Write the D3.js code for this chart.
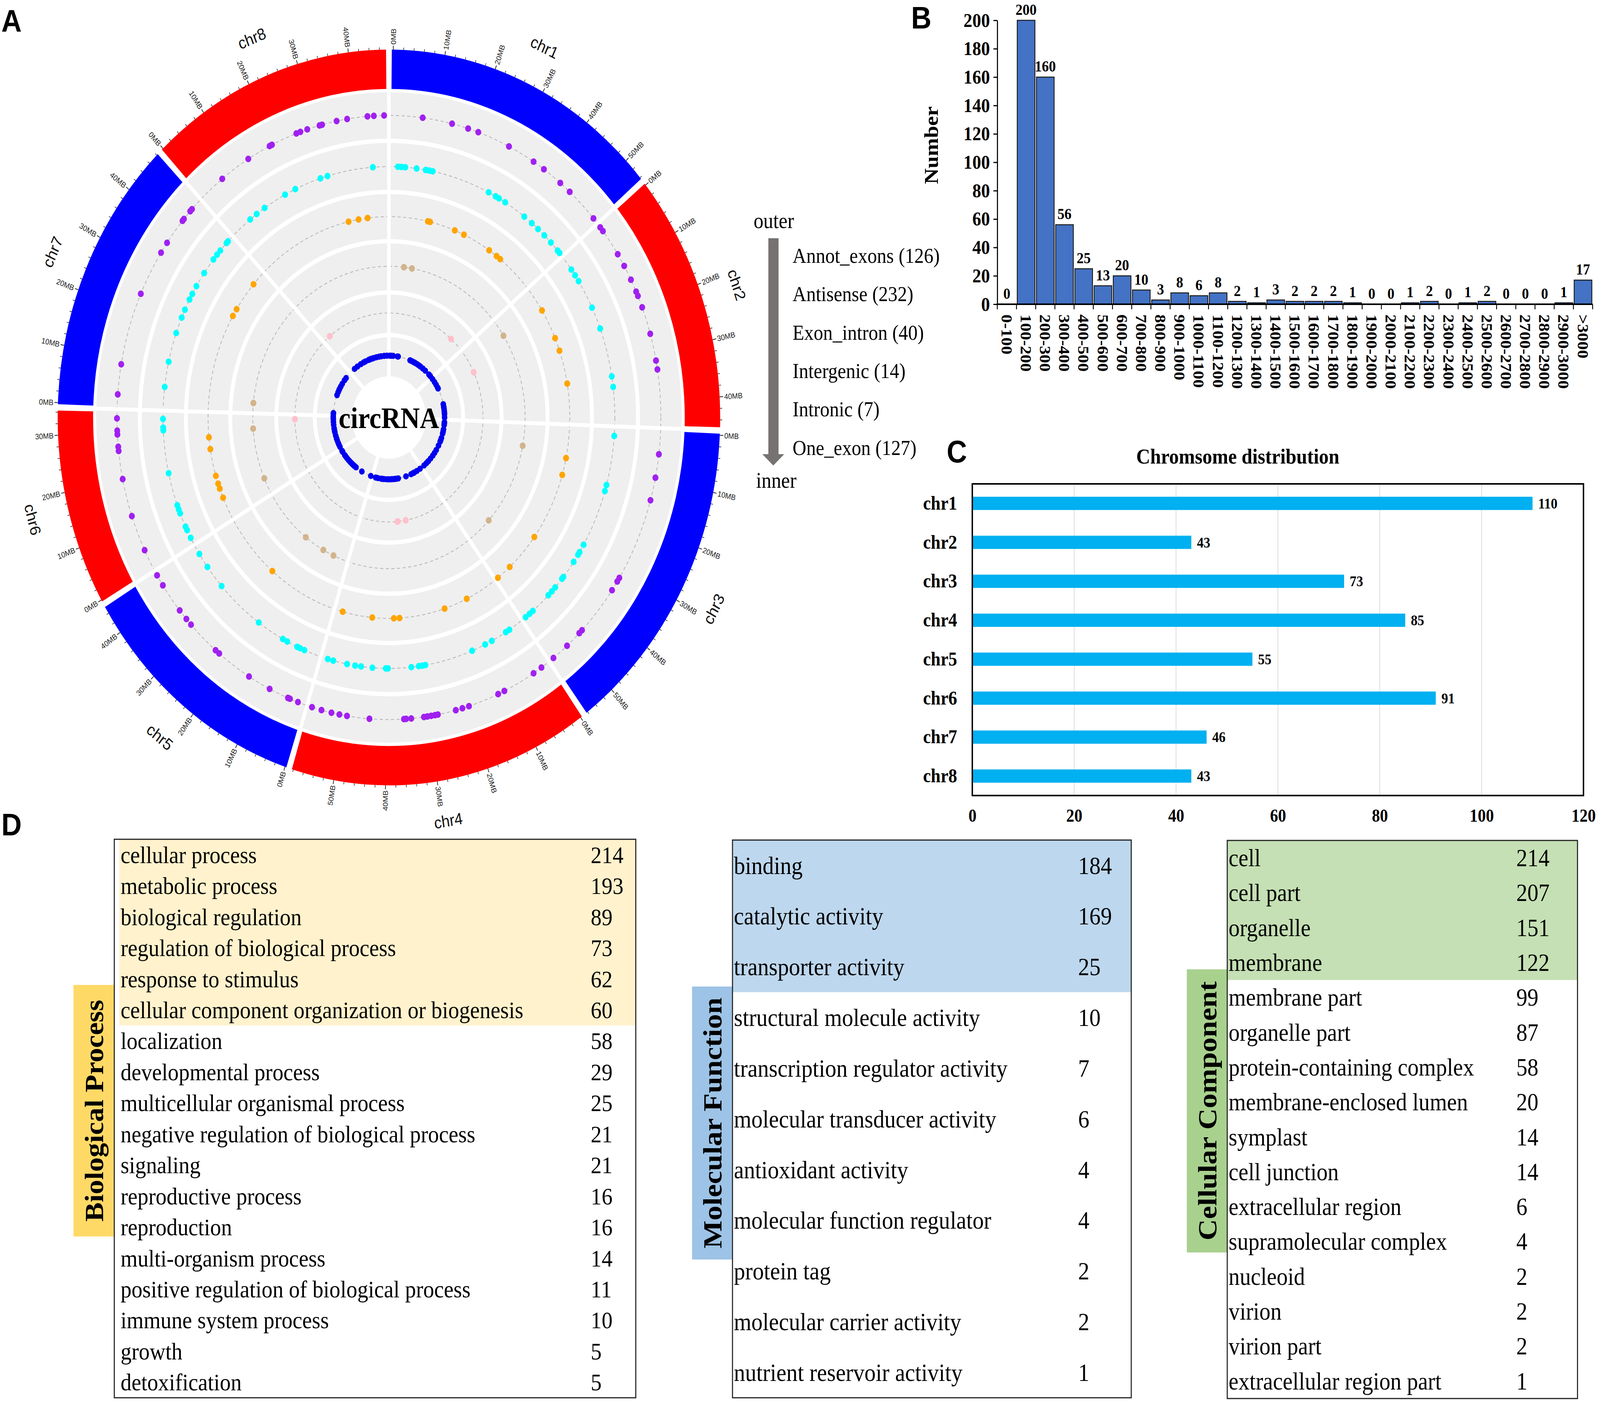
<!DOCTYPE html>
<html>
<head>
<meta charset="utf-8">
<script src="https://cdn.jsdelivr.net/npm/d3@7"></script>
<style>
html, body { margin: 0; padding: 0; background: #fff; width: 100%; height: 100%; overflow: hidden; }
svg { display: block; }
</style>
</head>
<body>
<script>
// ---------------- data ----------------
var chrNames = ['chr1', 'chr2', 'chr3', 'chr4', 'chr5', 'chr6', 'chr7', 'chr8'];
var chrLengths = [54, 45, 56, 58, 45, 34, 48, 47]; // MB
var chrColors = ['#0000ff', '#ff0000', '#0000ff', '#ff0000', '#0000ff', '#ff0000', '#0000ff', '#ff0000'];

// circRNA positions in MB, one list per chromosome (chr1..chr8), tracks outer -> inner
var annotExons = [
  [7.1, 14.1, 18.0, 20.5, 28.3, 34.9, 37.8, 42.6, 45.5, 53.4],
  [0.2, 1.2, 7.2, 10.1, 13.4, 16.2, 17.2, 19.8, 25.7, 31.5, 33.4],
  [4.7, 9.7, 14.6, 32.6, 33.5, 35.7, 46.7, 47.6, 51.5, 55.6],
  [1.4, 3.6, 11.4, 13.0, 20.3, 21.9, 23.5, 27.8, 28.5, 29.4, 30.3, 31.1, 34.1, 35.3, 35.8, 43.9, 49.2, 51.0, 52.9, 55.3, 57.6],
  [1.4, 3.4, 3.9, 8.6, 14.1, 22.6, 23.7, 31.6, 33.2, 35.6, 42.2, 44.7],
  [4.1, 11.9, 20.0, 26.0, 26.9, 29.5, 30.3, 32.9],
  [2.3, 8.7, 24.3, 34.2, 36.7, 42.6, 43.1, 45.3, 45.9],
  [5.8, 13.2, 18.9, 19.5, 25.7, 26.7, 28.4, 31.4, 32.0, 35.5, 38.0, 42.8, 44.3, 46.7]
];
var antisense = [
  [1.7, 2.7, 3.8, 7.0, 9.6, 10.6, 11.6, 28.3, 30.5, 31.6, 33.6, 40.1, 42.8, 45.1, 47.5, 50.1, 52.9, 53.7],
  [3.4, 5.2, 7.0, 14.7, 20.5, 33.1, 35.8],
  [1.6, 14.3, 15.9, 30.8, 33.0, 33.8, 36.0, 40.8, 41.4, 44.3, 45.7, 47.1, 53.0, 54.2, 55.6],
  [3.5, 4.7, 9.2, 11.3, 15.3, 29.0, 29.9, 30.9, 33.0, 39.6, 40.2, 44.0, 47.2, 48.9, 51.2, 55.2, 56.8],
  [4.1, 5.4, 6.3, 9.4, 10.8, 18.8, 32.8, 39.1, 43.1],
  [1.2, 3.4, 4.4, 8.1, 9.2, 10.3, 18.8, 29.8, 30.5, 32.7],
  [5.2, 11.7, 19.3, 23.5, 25.7, 28.6, 30.2, 32.5, 36.5, 40.8, 42.4, 43.8, 46.4, 47.0],
  [5.7, 8.0, 10.7, 17.4, 20.6, 28.2, 30.3, 43.3]
];
var exonIntron = [
  [13.0, 13.8, 22.9, 26.4, 36.6, 39.8, 41.4],
  [7.8, 17.7, 22.0, 32.8],
  [9.9, 15.4, 37.5, 50.4, 55.8],
  [11.0, 19.4, 35.6, 37.6, 45.2, 55.8],
  [24.3],
  [6.9, 10.0, 11.7, 14.3, 23.0, 26.8],
  [31.2, 33.7, 43.6],
  [33.5, 37.1, 40.3]
];
var intergenic = [
  [6.2, 10.0], [7.2], [8.9, 44.6], [], [6.4, 11.7, 21.5], [6.7, 28.4], [3.5], []
];
var intronic = [
  [45.1], [15.0], [], [27.9, 33.3, 33.6], [], [32.1], [], [4.5]
];
var oneExon = [
  [0.2, 1.8, 4.0, 9.0, 9.8, 24.0, 26.2, 28.5, 30.1, 32.5, 35.0, 37.3, 40.9, 44.5, 50.3, 52.5],
  [0.8, 4.7, 8.0, 11.3, 12.5, 29.8, 32.5, 34.2, 36.4, 38.6, 40.2, 43.6],
  [1.7, 3.2, 4.7, 9.2, 11.5, 13.6, 18.3, 20.5, 22.5, 27.0, 32.2, 35.8, 39.2, 43.2, 47.0, 50.0, 53.5],
  [1.5, 5.9, 9.3, 10.5, 13.2, 19.5, 28.6, 30.7, 32.5, 33.8, 36.0, 37.1, 39.5, 41.7, 44.9, 46.5, 48.2, 52.0, 54.6],
  [0.8, 12.0, 20.0, 21.9, 23.5, 25.0, 26.2, 28.0, 29.7, 31.5, 34.2, 36.5, 38.0, 42.0, 43.5],
  [1.5, 4.2, 6.0, 8.6, 11.0, 14.0, 17.5, 19.5, 22.0, 25.5, 28.6, 31.4, 33.6],
  [0.5, 2.0, 21.0, 24.1, 26.5, 28.6, 31.0, 34.1, 38.6, 41.5],
  [5.5, 9.5, 14.0, 17.8, 20.0, 23.9, 25.5, 26.7, 28.5, 30.3, 33.4, 36.4, 39.0, 42.4, 45.6]
];
var trackNames = ['Annot_exons', 'Antisense', 'Exon_intron', 'Intergenic', 'Intronic', 'One_exon'];
var trackTotals = [126, 232, 40, 14, 7, 127];
var trackColors = ['#a020f0', '#00ffff', '#ffa500', '#d2b48c', '#ffc0cb', '#0000ee'];

// panel B
var lenBins = ['0-100', '100-200', '200-300', '300-400', '400-500', '500-600', '600-700', '700-800',
  '800-900', '900-1000', '1000-1100', '1100-1200', '1200-1300', '1300-1400', '1400-1500', '1500-1600',
  '1600-1700', '1700-1800', '1800-1900', '1900-2000', '2000-2100', '2100-2200', '2200-2300', '2300-2400',
  '2400-2500', '2500-2600', '2600-2700', '2700-2800', '2800-2900', '2900-3000', '>3000'];
var lenCounts = [0, 200, 160, 56, 25, 13, 20, 10, 3, 8, 6, 8, 2, 1, 3, 2, 2, 2, 1, 0, 0, 1, 2, 0, 1, 2, 0, 0, 0, 1, 17];
var lenTicks = [0, 20, 40, 60, 80, 100, 120, 140, 160, 180, 200];

// panel C
var chrCounts = [110, 43, 73, 85, 55, 91, 46, 43];
var chrTicks = [0, 20, 40, 60, 80, 100, 120];

// panel D
var bpTerms = ['cellular process', 'metabolic process', 'biological regulation', 'regulation of biological process',
  'response to stimulus', 'cellular component organization or biogenesis', 'localization', 'developmental process',
  'multicellular organismal process', 'negative regulation of biological process', 'signaling', 'reproductive process',
  'reproduction', 'multi-organism process', 'positive regulation of biological process', 'immune system process',
  'growth', 'detoxification'];
var bpCounts = [214, 193, 89, 73, 62, 60, 58, 29, 25, 21, 21, 16, 16, 14, 11, 10, 5, 5];
var mfTerms = ['binding', 'catalytic activity', 'transporter activity', 'structural molecule activity',
  'transcription regulator activity', 'molecular transducer activity', 'antioxidant activity',
  'molecular function regulator', 'protein tag', 'molecular carrier activity', 'nutrient reservoir activity'];
var mfCounts = [184, 169, 25, 10, 7, 6, 4, 4, 2, 2, 1];
var ccTerms = ['cell', 'cell part', 'organelle', 'membrane', 'membrane part', 'organelle part',
  'protein-containing complex', 'membrane-enclosed lumen', 'symplast', 'cell junction', 'extracellular region',
  'supramolecular complex', 'nucleoid', 'virion', 'virion part', 'extracellular region part'];
var ccCounts = [214, 207, 151, 122, 99, 87, 58, 20, 14, 14, 6, 4, 2, 2, 2, 1];

// ---------------- setup ----------------
var W = 4550, H = 3595;
var SERIF = '"Liberation Serif", "Times New Roman", serif';
var SANS = '"Liberation Sans", Arial, sans-serif';
// fill the whole window, whatever its real size
var svg = d3.select('body').append('svg')
  .attr('viewBox', '0 0 ' + W + ' ' + H)
  .attr('preserveAspectRatio', 'none')
  .attr('width', '100vw').attr('height', '100vh');

function rad(d) { return d * Math.PI / 180; }

// ---------------- panel A : circos ----------------
var cx = 1106, cy = 1069, R = 942;
var gapDeg = 1.5;
var degPerMb = (360 - gapDeg * chrNames.length) / d3.sum(chrLengths);
var starts = [];
var acc = gapDeg / 2;
chrLengths.forEach(function(l) { starts.push(acc); acc += l * degPerMb + gapDeg; });
var angle = chrLengths.map(function(l, i) {
  return d3.scaleLinear().domain([0, l]).range([rad(starts[i]), rad(starts[i] + l * degPerMb)]);
});
var rs = d3.scaleLinear().domain([0, 1]).range([0, R]);

var ringFr = [0.752, 0.613, 0.479, 0.340, 0.224];
var trackMid = [0.821, 0.682, 0.546, 0.411, 0.284, 0.168];
var holeFr = 0.112, grayFr = 0.884, ideoIn = 0.893;

var circ = svg.append('g').attr('transform', 'translate(' + cx + ',' + cy + ')');

circ.append('path')
  .attr('d', d3.arc()({innerRadius: rs(holeFr), outerRadius: rs(grayFr), startAngle: 0, endAngle: 2 * Math.PI}))
  .attr('fill', '#efefef');

circ.selectAll('circle.dash').data(trackMid).enter().append('circle')
  .attr('r', function(d) { return rs(d); })
  .attr('fill', 'none').attr('stroke', '#b8b8b8').attr('stroke-width', 2.2)
  .attr('stroke-dasharray', '9,7');

circ.selectAll('circle.ring').data(ringFr).enter().append('circle')
  .attr('r', function(d) { return rs(d); })
  .attr('fill', 'none').attr('stroke', '#fff').attr('stroke-width', 11);

// radial white separators at chromosome gaps
circ.selectAll('line.sep').data(starts).enter().append('line')
  .each(function(s) {
    var a = rad(s - gapDeg / 2);
    var p0 = d3.pointRadial(a, rs(holeFr) - 2), p1 = d3.pointRadial(a, rs(grayFr) + 4);
    d3.select(this).attr('x1', p0[0]).attr('y1', p0[1]).attr('x2', p1[0]).attr('y2', p1[1]);
  })
  .attr('stroke', '#fff').attr('stroke-width', 10);

// ideogram
var ext = rad(0.25);
circ.selectAll('path.ideo').data(chrNames).enter().append('path')
  .attr('d', function(c, i) {
    return d3.arc()({innerRadius: rs(ideoIn), outerRadius: R,
      startAngle: angle[i](0) - ext, endAngle: angle[i](chrLengths[i]) + ext});
  })
  .attr('fill', function(c, i) { return chrColors[i]; });

// ticks and tick labels
chrNames.forEach(function(c, i) {
  var g = circ.append('g');
  d3.range(0, chrLengths[i] + 0.001, 2).forEach(function(mb) {
    var a = angle[i](mb);
    var major = mb % 10 === 0;
    var p0 = d3.pointRadial(a, R), p1 = d3.pointRadial(a, R + (major ? 10 : 6));
    g.append('line').attr('x1', p0[0]).attr('y1', p0[1]).attr('x2', p1[0]).attr('y2', p1[1])
      .attr('stroke', '#222').attr('stroke-width', major ? 2 : 1.6);
    if (major) {
      var deg = a * 180 / Math.PI;
      var p = d3.pointRadial(a, R + 13);
      g.append('text')
        .attr('transform', 'translate(' + p[0] + ',' + p[1] + ') rotate(' + (deg < 180 ? deg - 90 : deg + 90) + ')')
        .attr('text-anchor', deg < 180 ? 'start' : 'end')
        .attr('dy', '0.36em')
        .attr('font-family', SANS).attr('font-size', 20).attr('fill', '#222')
        .text(mb + 'MB');
    }
  });
  var mid = (angle[i](0) + angle[i](chrLengths[i])) / 2;
  var md = mid * 180 / Math.PI;
  var pl = d3.pointRadial(mid, 1046);
  circ.append('text')
    .attr('transform', 'translate(' + pl[0] + ',' + pl[1] + ') rotate(' + (md > 90 && md < 270 ? md - 180 : md) + ')')
    .attr('text-anchor', 'middle').attr('dy', '0.35em')
    .attr('font-family', SANS).attr('font-size', 42).attr('fill', '#111')
    .text(c);
});

// points
[annotExons, antisense, exonIntron, intergenic, intronic, oneExon].forEach(function(track, t) {
  var pts = [];
  track.forEach(function(list, i) { list.forEach(function(mb) { pts.push({chr: i, mb: mb}); }); });
  circ.append('g').selectAll('circle').data(pts).enter().append('circle')
    .attr('cx', function(d) { return d3.pointRadial(angle[d.chr](d.mb), rs(trackMid[t]))[0]; })
    .attr('cy', function(d) { return d3.pointRadial(angle[d.chr](d.mb), rs(trackMid[t]))[1]; })
    .attr('r', t === 5 ? 8 : 8.5)
    .attr('fill', trackColors[t]);
});

circ.append('text').attr('text-anchor', 'middle').attr('dy', '0.35em')
  .attr('font-family', SERIF).attr('font-weight', 'bold').attr('font-size', 76)
  .text('circRNA');

// legend
var leg = svg.append('g');
leg.append('text').attr('x', 2143).attr('y', 584).attr('font-family', SERIF).attr('font-size', 56).text('outer');
leg.append('text').attr('x', 2150).attr('y', 1249).attr('font-family', SERIF).attr('font-size', 56).text('inner');
leg.append('rect').attr('x', 2185).attr('y', 610).attr('width', 29).attr('height', 555).attr('fill', '#777272');
leg.append('path').attr('d', 'M2168,1163 L2230,1163 L2199,1192 Z').attr('fill', '#777272');
var legY = d3.scaleBand().domain(trackNames).range([606, 1196]);
leg.selectAll('text.item').data(trackNames).enter().append('text')
  .attr('x', 2254)
  .attr('y', function(d) { return legY(d) + legY.bandwidth() / 2 + 18; })
  .attr('font-family', SERIF).attr('font-size', 54)
  .text(function(d, i) { return d + ' (' + trackTotals[i] + ')'; });

// ---------------- panel B : length histogram ----------------
var bx = d3.scaleBand().domain(lenBins).range([2836, 4529]).paddingInner(0.08).paddingOuter(0.04);
var by = d3.scaleLinear().domain([0, 200]).range([779, 52]);
var gb = svg.append('g');
gb.selectAll('rect').data(lenCounts).enter().append('rect')
  .attr('x', function(d, i) { return bx(lenBins[i]); })
  .attr('y', function(d) { return by(d); })
  .attr('width', bx.bandwidth())
  .attr('height', function(d) { return by(0) - by(d); })
  .attr('fill', '#4472c4').attr('stroke', '#1a1a1a').attr('stroke-width', 2.5);
gb.selectAll('text.val').data(lenCounts).enter().append('text')
  .attr('x', function(d, i) { return bx(lenBins[i]) + bx.bandwidth() / 2; })
  .attr('y', function(d) { return by(d) - 14; })
  .attr('text-anchor', 'middle').attr('font-family', SERIF).attr('font-weight', 'bold').attr('font-size', 40)
  .text(function(d) { return d; });
var yAxB = gb.append('g').attr('transform', 'translate(2836,0)')
  .call(d3.axisLeft(by).tickValues(lenTicks).tickSize(11).tickSizeOuter(0).tickPadding(10));
yAxB.select('.domain').attr('stroke-width', 3);
yAxB.selectAll('.tick line').attr('stroke-width', 3);
yAxB.selectAll('text').attr('font-family', SERIF).attr('font-weight', 'bold').attr('font-size', 50).attr('fill', '#000');
gb.append('line').attr('x1', 2834).attr('x2', 4529).attr('y1', by(0)).attr('y2', by(0))
  .attr('stroke', '#000').attr('stroke-width', 4);
gb.selectAll('line.bnd').data(d3.range(lenBins.length + 1)).enter().append('line')
  .attr('x1', function(i) { return bx.range()[0] + i * bx.step(); })
  .attr('x2', function(i) { return bx.range()[0] + i * bx.step(); })
  .attr('y1', by(0)).attr('y2', by(0) + 13)
  .attr('stroke', '#000').attr('stroke-width', 2.5);
gb.selectAll('text.cat').data(lenBins).enter().append('text')
  .attr('transform', function(d) { return 'translate(' + (bx(d) + bx.bandwidth() / 2) + ',805) rotate(90)'; })
  .attr('dy', '0.35em')
  .attr('font-family', SERIF).attr('font-weight', 'bold').attr('font-size', 44)
  .text(function(d) { return d; });
gb.append('text').attr('transform', 'translate(2648,372) rotate(-90)')
  .attr('text-anchor', 'middle').attr('dy', '0.35em')
  .attr('font-family', SERIF).attr('font-weight', 'bold').attr('font-size', 56)
  .text('Number');

// ---------------- panel C : chromosome distribution ----------------
var xc = d3.scaleLinear().domain([0, 120]).range([2765, 4503]);
var yc = d3.scaleBand().domain(chrNames).range([1239, 2037]).paddingInner(0.66).paddingOuter(0.33);
var gc = svg.append('g');
gc.selectAll('line.grid').data(chrTicks.slice(1, -1)).enter().append('line')
  .attr('x1', function(d) { return xc(d); }).attr('x2', function(d) { return xc(d); })
  .attr('y1', 1239).attr('y2', 2037).attr('stroke', '#d9d9d9').attr('stroke-width', 2);
gc.selectAll('rect.bar').data(chrCounts).enter().append('rect')
  .attr('x', xc(0))
  .attr('y', function(d, i) { return yc(chrNames[i]); })
  .attr('width', function(d) { return xc(d) - xc(0); })
  .attr('height', yc.bandwidth())
  .attr('fill', '#00b0f0');
gc.selectAll('text.val').data(chrCounts).enter().append('text')
  .attr('x', function(d) { return xc(d) + 16; })
  .attr('y', function(d, i) { return yc(chrNames[i]) + yc.bandwidth() / 2 + 13; })
  .attr('font-family', SERIF).attr('font-weight', 'bold').attr('font-size', 38)
  .text(function(d) { return d; });
gc.selectAll('text.chr').data(chrNames).enter().append('text')
  .attr('x', 2722)
  .attr('y', function(d) { return yc(d) + yc.bandwidth() / 2 + 16; })
  .attr('text-anchor', 'end')
  .attr('font-family', SERIF).attr('font-weight', 'bold').attr('font-size', 50)
  .text(function(d) { return d; });
gc.append('rect').attr('x', 2765).attr('y', 1239).attr('width', 4503 - 2765).attr('height', 2037 - 1239)
  .attr('fill', 'none').attr('stroke', '#000').attr('stroke-width', 4);
var xAxC = gc.append('g').attr('transform', 'translate(0,2037)')
  .call(d3.axisBottom(xc).tickValues(chrTicks).tickSize(0).tickPadding(34));
xAxC.select('.domain').remove();
xAxC.selectAll('text').attr('font-family', SERIF).attr('font-weight', 'bold').attr('font-size', 46).attr('fill', '#000');
gc.append('text').attr('x', 3520).attr('y', 1187).attr('text-anchor', 'middle')
  .attr('font-family', SERIF).attr('font-weight', 'bold').attr('font-size', 55)
  .text('Chromsome distribution');

// ---------------- panel D : GO tables ----------------
function drawTable(t) {
  var g = svg.append('g');
  var rows = d3.scaleBand().domain(d3.range(t.terms.length)).range([t.y0, t.y1]);
  g.append('rect').attr('x', t.x0 + t.hiPad).attr('y', t.y0)
    .attr('width', t.x1 - t.x0 - t.hiPad).attr('height', rows.step() * t.hiN)
    .attr('fill', t.hiColor);
  g.append('rect').attr('x', t.labX).attr('y', t.labY0).attr('width', t.x0 - t.labX)
    .attr('height', t.labY1 - t.labY0).attr('fill', t.labColor);
  g.append('text')
    .attr('transform', 'translate(' + ((t.labX + t.x0) / 2) + ',' + ((t.labY0 + t.labY1) / 2) + ') rotate(-90)')
    .attr('text-anchor', 'middle').attr('dy', '0.35em')
    .attr('font-family', SERIF).attr('font-weight', 'bold').attr('font-size', t.labSize)
    .text(t.label);
  g.append('rect').attr('x', t.x0).attr('y', t.y0).attr('width', t.x1 - t.x0).attr('height', t.y1 - t.y0)
    .attr('fill', 'none').attr('stroke', '#222').attr('stroke-width', 3);
  g.selectAll('text.term').data(t.terms).enter().append('text')
    .attr('x', t.textX)
    .attr('y', function(d, i) { return rows(i) + rows.step() / 2 + t.fs * 0.34; })
    .attr('font-family', SERIF).attr('font-size', t.fs)
    .text(function(d) { return d; });
  g.selectAll('text.num').data(t.counts).enter().append('text')
    .attr('x', t.numX)
    .attr('y', function(d, i) { return rows(i) + rows.step() / 2 + t.fs * 0.34; })
    .attr('font-family', SERIF).attr('font-size', t.fs)
    .text(function(d) { return d; });
}

drawTable({terms: bpTerms, counts: bpCounts, x0: 325, x1: 1808, y0: 2149, y1: 3579,
  textX: 343, numX: 1680, fs: 62, hiN: 6, hiPad: 14, hiColor: '#fff2cc',
  labX: 209, labY0: 2522, labY1: 3166, labColor: '#ffd966', label: 'Biological Process', labSize: 74});
drawTable({terms: mfTerms, counts: mfCounts, x0: 2083, x1: 3217, y0: 2151, y1: 3579,
  textX: 2087, numX: 3066, fs: 64, hiN: 3, hiPad: 0, hiColor: '#bdd7ee',
  labX: 1968, labY0: 2526, labY1: 3225, labColor: '#9dc3e6', label: 'Molecular Function', labSize: 76});
drawTable({terms: ccTerms, counts: ccCounts, x0: 3490, x1: 4486, y0: 2152, y1: 3581,
  textX: 3494, numX: 4312, fs: 63, hiN: 4, hiPad: 0, hiColor: '#c5e0b4',
  labX: 3375, labY0: 2482, labY1: 3207, labColor: '#a9d18e', label: 'Cellular Component', labSize: 76});

// panel letters
[['A', 4, 81], ['B', 2591, 73], ['C', 2692, 1184], ['D', 4, 2139]].forEach(function(l) {
  svg.append('text').attr('x', l[1]).attr('y', l[2])
    .attr('font-family', SANS).attr('font-weight', 'bold').attr('font-size', 80)
    .text(l[0]);
});
</script>
</body>
</html>
